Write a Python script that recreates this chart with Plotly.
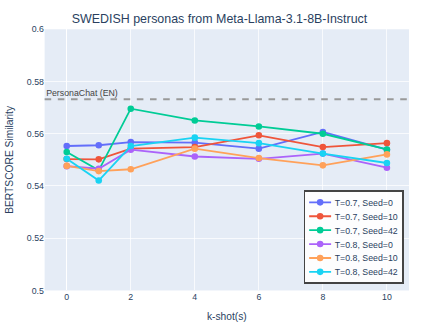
import plotly.graph_objects as go

k_shots = [0, 1, 2, 4, 6, 8, 10]
series_names = ["T=0.7, Seed=0", "T=0.7, Seed=10", "T=0.7, Seed=42",
                "T=0.8, Seed=0", "T=0.8, Seed=10", "T=0.8, Seed=42"]
t07_s0 = [0.5553, 0.5556, 0.5568, 0.5566, 0.5543, 0.5607, 0.5539]
t07_s10 = [0.5503, 0.5502, 0.5543, 0.5549, 0.5594, 0.5549, 0.5564]
t07_s42 = [0.5530, 0.5460, 0.5696, 0.5651, 0.5628, 0.5600, 0.5540]
t08_s0 = [0.5476, 0.5466, 0.5539, 0.5513, 0.5504, 0.5524, 0.5470]
t08_s10 = [0.5477, 0.5457, 0.5464, 0.5543, 0.5507, 0.5479, 0.5521]
t08_s42 = [0.5504, 0.5421, 0.5553, 0.5585, 0.5564, 0.5524, 0.5488]
baseline_value = 0.5732
baseline_label = "PersonaChat (EN)"

colors = ["#636efa", "#EF553B", "#00cc96", "#ab63fa", "#FFA15A", "#19d3f3"]
all_series = [t07_s0, t07_s10, t07_s42, t08_s0, t08_s10, t08_s42]

# The reference is a 600x450 figure displayed at 439x329
SCALE = 439 / 600

fig = go.Figure()
for name, vals, c in zip(series_names, all_series, colors):
    fig.add_trace(go.Scatter(x=k_shots, y=vals, mode="lines+markers", name=name,
                             line=dict(color=c, width=2.5), marker=dict(size=9, color=c)))

fig.add_hline(y=baseline_value, line=dict(color="#999999", dash="dash", width=2.5),
              annotation_text=baseline_label, annotation_position="top left",
              annotation_font=dict(size=12, color="#444444"))

fig.update_layout(
    template="plotly",
    width=600, height=450,
    margin=dict(l=61, r=41, t=40, b=53),
    font=dict(family="Arial, Liberation Sans, sans-serif", size=12),
    title=dict(text="SWEDISH personas from Meta-Llama-3.1-8B-Instruct", x=0.5, xanchor="center",
               y=0.943, yanchor="middle", font=dict(size=17)),
    xaxis=dict(title=dict(text="k-shot(s)"), range=[-0.69, 10.69],
               tickvals=[0, 2, 4, 6, 8, 10], automargin=False),
    yaxis=dict(title=dict(text="BERTSCORE Similarity"), range=[0.5, 0.6], dtick=0.02,
               automargin=False),
    legend=dict(x=0.985, y=0.025, xanchor="right", yanchor="bottom",
                bgcolor="rgba(255,255,255,0.9)", bordercolor="#444", borderwidth=2),
)

post = ("document.body.style.margin='0';document.body.style.overflow='hidden';"
        "var gd=document.getElementById('{plot_id}');"
        "gd.style.zoom='" + str(SCALE) + "';")
fig.write_html("out.html", post_script=post, config={"displayModeBar": False})
